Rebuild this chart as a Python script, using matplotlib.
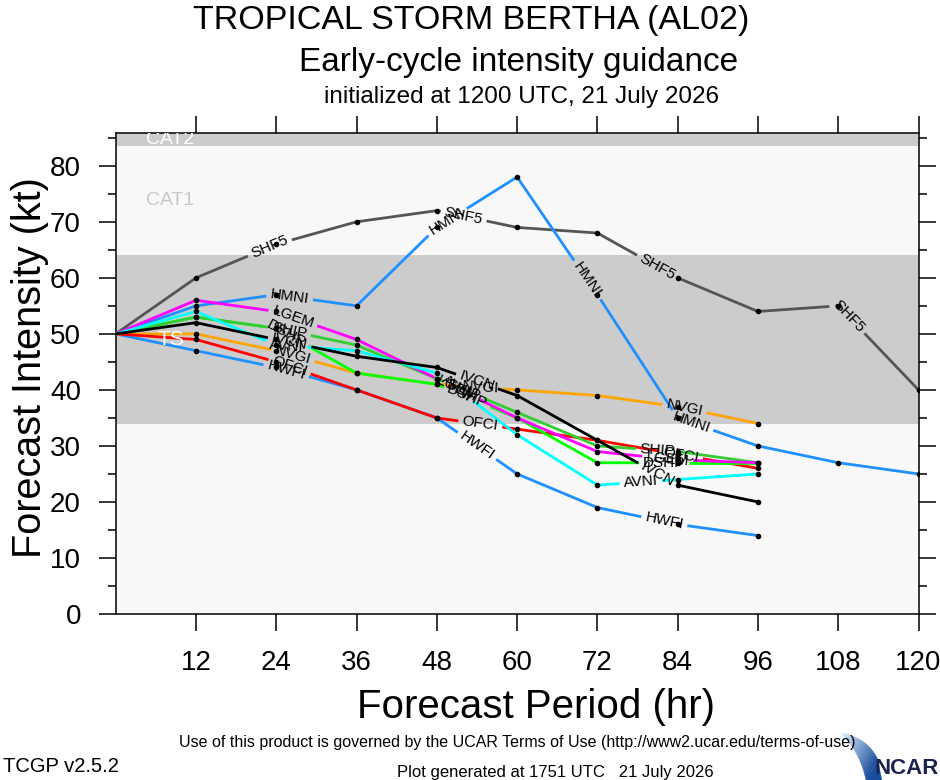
import numpy as np
import matplotlib
matplotlib.use('Agg')
import matplotlib.pyplot as plt
from matplotlib.patches import Polygon

plt.rcParams['font.family'] = ['Liberation Sans', 'DejaVu Sans']

# ---------------- data ----------------
hours = [0, 12, 24, 36, 48, 60, 72, 84, 96, 108, 120]

SHF5 = [50, 60, 66, 70, 72, 69, 68, 60, 54, 55, 40]
HMNI = [50, 55, 57, 55, 69, 78, 57, 35, 30, 27, 25]
HWFI = [50, 47, 44, 40, 35, 25, 19, 16, 14]
LGEM = [50, 56, 54, 49, 42, 35, 29, 27.5, 27]
SHIP = [50, 53, 51, 48, 42, 36, 30, 29, 27]
DSHP = [50, 53, 51, 43, 41, 35, 27, 27, 27]
AVNI = [50, 54, 48, 47, 43, 32, 23, 24, 25]
IVCN = [50, 52, 49, 46, 44, 39, 31, 23, 20]
NVGI = [50, 50, 47, 43, 41, 40, 39, 37, 34]
OFCI = [50, 49, 45, 40, 35, 33, 31, 28.5, 26]

models = ['SHF5', 'HMNI', 'HWFI', 'NVGI', 'OFCI', 'DSHP', 'SHIP', 'LGEM', 'AVNI', 'IVCN']
values = {'SHF5': SHF5, 'HMNI': HMNI, 'HWFI': HWFI, 'LGEM': LGEM, 'SHIP': SHIP,
          'DSHP': DSHP, 'AVNI': AVNI, 'IVCN': IVCN, 'NVGI': NVGI, 'OFCI': OFCI}
colors = {'SHF5': '#555555', 'HMNI': '#1e90ff', 'HWFI': '#1e90ff', 'LGEM': '#ff00ff',
          'SHIP': '#32cd32', 'DSHP': '#00ff00', 'AVNI': '#00ffff', 'IVCN': '#000000',
          'NVGI': '#ffa500', 'OFCI': '#ff0000'}
label_hours = {'SHF5': [23, 52, 81, 109.5], 'HMNI': [26, 49.5, 70.5, 86],
               'HWFI': [25.5, 54, 82], 'LGEM': [26.5, 51, 82.5], 'SHIP': [26, 52, 81],
               'DSHP': [25.5, 52.5, 82], 'AVNI': [25.5, 51, 78.5], 'IVCN': [26, 54, 81],
               'NVGI': [26.5, 54.5, 85], 'OFCI': [26, 54.5, 84.5]}

bands = [(0, 34, '#f8f8f8'), (34, 64, '#cccccc'), (64, 83.5, '#f8f8f8'), (83.5, 100, '#cccccc')]
band_labels = [('TS', 49, 'white', 15), ('CAT1', 73.75, '#c8c8c8', 14), ('CAT2', 84.75, 'white', 14)]

xticks = [12, 24, 36, 48, 60, 72, 84, 96, 108, 120]
yticks = [0, 10, 20, 30, 40, 50, 60, 70, 80]

# ---------------- figure ----------------
W, H = 940, 780
fig = plt.figure(figsize=(W / 100, H / 100), dpi=100)
L, R, T, B = 115.7, 918.5, 133.3, 614.0
ax = fig.add_axes([L / W, 1 - B / H, (R - L) / W, (B - T) / H])
ax.set_xlim(0, 120)
ax.set_ylim(0, 85.8)

for lo, hi, c in bands:
    ax.axhspan(lo, hi, color=c, zorder=0, lw=0)
for txt, yv, c, fs in band_labels:
    ax.text(8.2, yv, txt, color=c, fontsize=fs, ha='center', va='center', zorder=4, clip_on=True)

ax.set_xticks(xticks)
ax.set_yticks(yticks)
ax.set_yticks(np.arange(5, 86, 10), minor=True)
ax.tick_params(which='major', direction='out', length=12, width=1.1, labelsize=20,
               top=True, right=True, labeltop=False, labelright=False)
ax.tick_params(axis='y', which='major', pad=13)
ax.tick_params(axis='x', which='major', pad=14)
ax.tick_params(axis='y', which='minor', direction='out', length=6, width=1.1, right=True)
for sp in ax.spines.values():
    sp.set_linewidth(1.1)

renderer = fig.canvas.get_renderer()
inv = ax.transData.inverted()

for m in models:
    y = np.array(values[m], float)
    x = np.array(hours[:len(y)], float)
    P = ax.transData.transform(np.c_[x, y])
    seg = np.hypot(np.diff(P[:, 0]), np.diff(P[:, 1]))
    s = np.r_[0.0, np.cumsum(seg)]
    gaps = []
    for h in label_hours[m]:
        i = int(np.clip(np.searchsorted(x, h) - 1, 0, len(x) - 2))
        t = (h - x[i]) / (x[i + 1] - x[i])
        sc = s[i] + t * seg[i]
        c = P[i] + t * (P[i + 1] - P[i])
        d = P[i + 1] - P[i]
        ang = np.degrees(np.arctan2(d[1], d[0]))
        xd, yd = inv.transform(c)
        tx = ax.text(xd, yd, m, fontsize=11, ha='center', va='center',
                     rotation=0, rotation_mode='anchor', zorder=6, color='black')
        w = tx.get_window_extent(renderer).width
        tx.set_rotation(ang)
        gaps.append((sc - w / 2 - 4, sc + w / 2 + 4))

    def pt(sv):
        k = int(np.clip(np.searchsorted(s, sv) - 1, 0, len(seg) - 1))
        f = (sv - s[k]) / seg[k]
        return P[k] + f * (P[k + 1] - P[k])

    pieces = []
    start = 0.0
    for a, b in sorted(gaps):
        pieces.append((start, a))
        start = b
    pieces.append((start, s[-1]))
    for a, b in pieces:
        a = max(a, 0.0)
        b = min(b, s[-1])
        if b <= a:
            continue
        verts = [pt(a)] + [P[k] for k in range(len(s)) if a < s[k] < b] + [pt(b)]
        dd = inv.transform(np.array(verts))
        ax.plot(dd[:, 0], dd[:, 1], color=colors[m], lw=2.0, solid_capstyle='butt',
                solid_joinstyle='miter', zorder=3)
    ax.plot(x[1:], y[1:], 'o', ms=3, color='black', zorder=5)

# ---------------- texts ----------------
ov = fig.add_axes([0, 0, 1, 1], zorder=-1)
ov.set_xlim(0, W)
ov.set_ylim(H, 0)
ov.axis('off')

ov.text(471, 20, 'TROPICAL STORM BERTHA (AL02)', fontsize=24.5, ha='center', va='center')
ov.text(519, 62, 'Early-cycle intensity guidance', fontsize=24, ha='center', va='center')
ov.text(521, 97, 'initialized at 1200 UTC, 21 July 2026', fontsize=17.5, ha='center', va='center')
ov.text(536, 707, 'Forecast Period (hr)', fontsize=29, ha='center', va='center')
ov.text(30, 368, 'Forecast Intensity (kt)', fontsize=28.5, ha='center', va='center', rotation=90)
ov.text(517, 742, 'Use of this product is governed by the UCAR Terms of Use (http://www2.ucar.edu/terms-of-use)',
        fontsize=11.5, ha='center', va='center')
ov.text(555, 772, 'Plot generated at 1751 UTC   21 July 2026', fontsize=12, ha='center', va='center')
ov.text(3, 766, 'TCGP v2.5.2', fontsize=14.5, ha='left', va='center')

# NCAR logo (approximation): gradient swoosh + lettering
def bez(p0, p1, p2, u):
    return ((1 - u) ** 2)[:, None] * np.array(p0) + (2 * (1 - u) * u)[:, None] * np.array(p1) \
        + (u ** 2)[:, None] * np.array(p2)

nseg = 14
uu = np.linspace(0, 1, nseg + 1)
up = bez((842, 733), (868, 738), (878, 760), uu)
lo = bez((842, 735), (860, 752), (866, 780), uu)
c0 = np.array([0.85, 0.93, 0.98])
c1 = np.array([0.10, 0.30, 0.62])
for k in range(nseg):
    col = c0 + (c1 - c0) * (k + 0.5) / nseg
    ov.add_patch(Polygon([up[k], up[k + 1], lo[k + 1], lo[k]], closed=True,
                         facecolor=col, edgecolor=col, lw=0.3))
ov.add_patch(Polygon([(866, 780), (878, 760), (882, 780)], closed=True,
                     facecolor=c1, edgecolor='none'))
ov.text(939, 769, 'NCAR', fontsize=16, fontweight='bold', color='#1c2350', ha='right', va='center')

fig.savefig('out.png', dpi=100)
